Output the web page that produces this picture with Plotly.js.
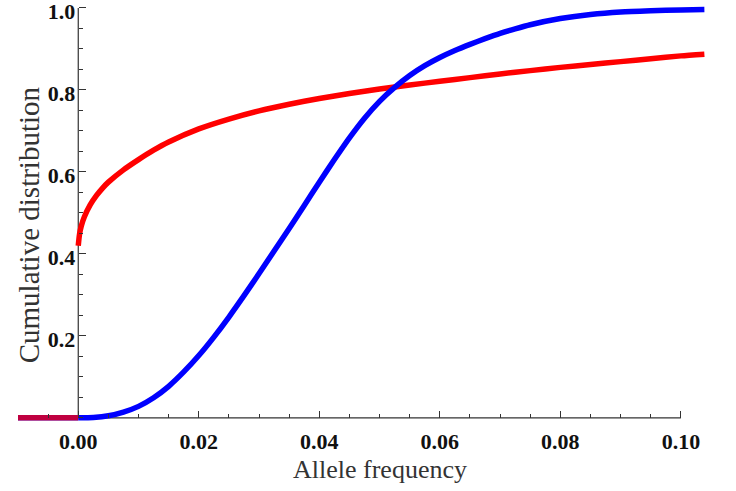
<!DOCTYPE html>
<html>
<head>
<meta charset="utf-8">
<script src="https://cdn.plot.ly/plotly-3.0.1.min.js"></script>
<style>html,body{margin:0;padding:0;background:#fff;}#chart{width:736px;height:491px;}</style>
</head>
<body>
<div id="chart"></div>
<script>
// Allele frequency (x) and cumulative distribution values
var blueX = [0, 0.0025, 0.005, 0.0075, 0.01, 0.0125, 0.015, 0.0175, 0.02, 0.0225, 0.025, 0.0275, 0.03, 0.0325, 0.035, 0.0375, 0.04, 0.0425, 0.045, 0.0475, 0.05, 0.0525, 0.055, 0.0575, 0.06, 0.0625, 0.065, 0.0675, 0.07, 0.0725, 0.075, 0.08, 0.085, 0.09, 0.095, 0.1, 0.1039];
var blueY = [0, 0.001, 0.005, 0.014, 0.028, 0.049, 0.077, 0.112, 0.152, 0.197, 0.246, 0.298, 0.352, 0.407, 0.462, 0.518, 0.575, 0.630, 0.683, 0.731, 0.772, 0.806, 0.835, 0.859, 0.879, 0.896, 0.911, 0.925, 0.938, 0.949, 0.959, 0.974, 0.984, 0.990, 0.993, 0.995, 0.996];

var redX = [0, 0.0002, 0.0005, 0.001, 0.002, 0.003, 0.004, 0.005, 0.0075, 0.01, 0.0125, 0.015, 0.02, 0.025, 0.03, 0.035, 0.04, 0.045, 0.05, 0.055, 0.06, 0.065, 0.07, 0.075, 0.08, 0.085, 0.09, 0.095, 0.1, 0.1039];
var redY = [0.42, 0.447, 0.468, 0.49, 0.52, 0.542, 0.56, 0.575, 0.605, 0.63, 0.653, 0.673, 0.705, 0.729, 0.749, 0.765, 0.779, 0.791, 0.802, 0.812, 0.821, 0.830, 0.839, 0.847, 0.855, 0.862, 0.869, 0.876, 0.883, 0.887];

// Both distributions are zero for negative frequencies
var negX = [-0.01, 0];
var negY = [0, 0];

var xTickVals = [0, 0.02, 0.04, 0.06, 0.08, 0.10];
var xTickText = ['0.00', '0.02', '0.04', '0.06', '0.08', '0.10'];
var yTickVals = [0.2, 0.4, 0.6, 0.8, 1.0];
var yTickText = ['0.2', '0.4', '0.6', '0.8', '1.0'];

var xTitle = 'Allele frequency';
var yTitle = 'Cumulative distribution';

var LW = 5.5;
var traces = [
  {x: negX, y: negY, mode: 'lines', line: {color: '#0000ff', width: LW}, hoverinfo: 'skip'},
  {x: negX, y: negY, mode: 'lines', opacity: 0.75, line: {color: '#ff0000', width: LW}, hoverinfo: 'skip'},
  {x: redX, y: redY, mode: 'lines', line: {color: '#ff0000', width: LW, shape: 'spline', smoothing: 0.6}},
  {x: blueX, y: blueY, mode: 'lines', line: {color: '#0000ff', width: LW, shape: 'spline', smoothing: 0.6}}
];

var xr = [-0.01, 0.1045];
var yr = [-0.015, 1.012];
var tickFont = {family: 'Liberation Serif, Times New Roman, serif', size: 22, color: '#111', weight: 'bold'};

var layout = {
  width: 736, height: 491,
  margin: {l: 18, r: 736 - 18 - 690, t: 3, b: 67, pad: 0},
  paper_bgcolor: '#fff', plot_bgcolor: '#fff',
  showlegend: false,
  xaxis: {
    range: xr, showgrid: false, zeroline: false, showline: false,
    anchor: 'free', position: (0 - yr[0]) / (yr[1] - yr[0]),
    tickmode: 'array', tickvals: xTickVals, ticktext: xTickText,
    ticks: 'inside', ticklen: 7, tickwidth: 1, tickcolor: '#333',
    minor: {tickmode: 'linear', tick0: 0, dtick: 0.005, ticks: 'inside', ticklen: 4, tickwidth: 1, tickcolor: '#333'},
    tickfont: tickFont, ticklabelstandoff: 8, ticklabeloverflow: 'allow'
  },
  yaxis: {
    range: yr, showgrid: false, zeroline: false, showline: false,
    anchor: 'free', position: (0 - xr[0]) / (xr[1] - xr[0]),
    tickmode: 'array', tickvals: yTickVals, ticktext: yTickText,
    ticks: 'inside', ticklen: 7, tickwidth: 1, tickcolor: '#333',
    minor: {tickmode: 'linear', tick0: 0, dtick: 0.05, ticks: 'inside', ticklen: 4, tickwidth: 1, tickcolor: '#333'},
    tickfont: tickFont, ticklabelstandoff: 3, ticklabelshift: 3, ticklabeloverflow: 'allow'
  },
  shapes: [
    {type: 'line', xref: 'x', yref: 'y', x0: xr[0], x1: 0.10, y0: 0, y1: 0, line: {color: '#333', width: 1.2}, layer: 'below'},
    {type: 'line', xref: 'x', yref: 'y', x0: 0, x1: 0, y0: 0, y1: 1.0, line: {color: '#333', width: 1.2}, layer: 'below'}
  ],
  annotations: [
    {text: xTitle, xref: 'x', yref: 'paper', x: 0.05, y: -0.07, yanchor: 'top', showarrow: false,
     font: {family: 'Liberation Serif, Times New Roman, serif', size: 26, color: '#333'}},
    {text: yTitle, xref: 'paper', yref: 'y', x: -0.01, y: 0.47, textangle: -90, showarrow: false,
     font: {family: 'Liberation Serif, Times New Roman, serif', size: 29, color: '#333'}}
  ]
};

Plotly.newPlot('chart', traces, layout, {displayModeBar: false, staticPlot: true});
</script>
</body>
</html>
